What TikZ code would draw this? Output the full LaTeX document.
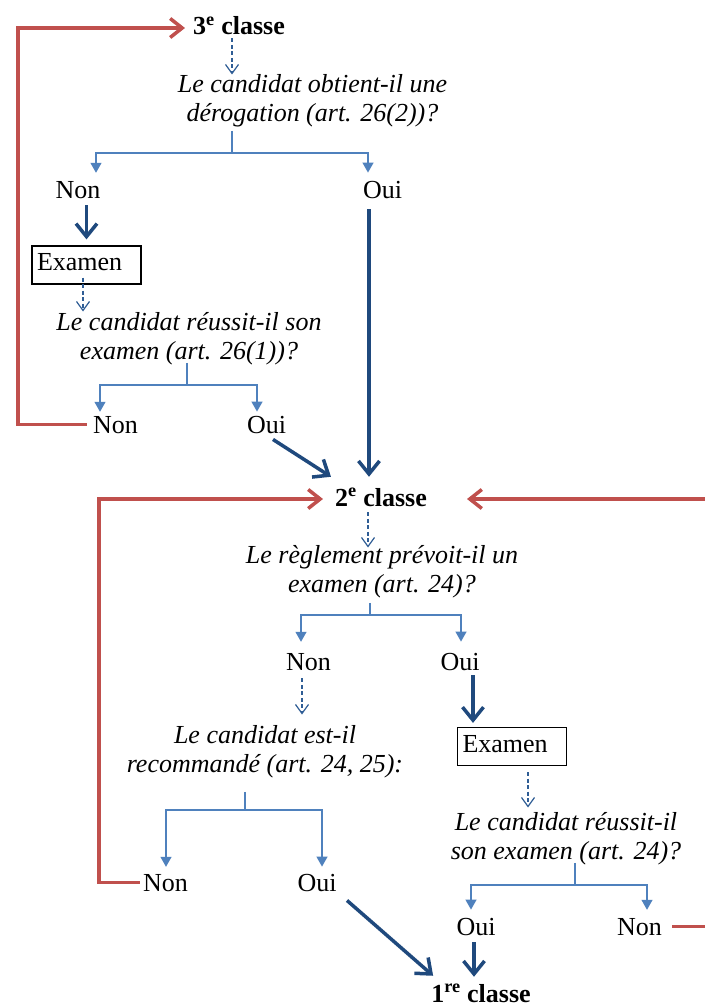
\documentclass[tikz,border=0pt]{standalone}
\usepackage{fontspec}
\setmainfont{Liberation Serif}
\usetikzlibrary{arrows.meta,calc}
\definecolor{redl}{HTML}{C0504D}
\definecolor{dblue}{HTML}{1F497D}
\definecolor{lblue}{HTML}{4F81BD}
\definecolor{dashc}{HTML}{2F5D95}
\begin{document}
\begin{tikzpicture}[x=1pt,y=-1pt,
  txt/.style={font=\fontsize{26}{29}\selectfont, inner sep=0pt, anchor=base},
  cls/.style={txt, font=\fontsize{26}{29}\selectfont\bfseries},
  qst/.style={font=\fontsize{26}{29}\selectfont\itshape, align=center, inner sep=0pt},
  exbox/.style={draw=black, line width=1.2pt, font=\fontsize{26}{29}\selectfont, text width=99pt, align=left, inner xsep=5pt, inner ysep=7.5pt, text height=17pt, text depth=6pt},
  redarr/.style={draw=redl, line width=3.5pt, line join=miter, -{Straight Barb[length=12pt,width=19pt]}},
  bigarr/.style={draw=dblue, line width=3.5pt, -{Straight Barb[length=13pt,width=21pt]}},
  brln/.style={draw=lblue, line width=1.2pt},
  brarr/.style={draw=lblue, line width=1.2pt, -{Triangle[length=10pt,width=11pt]}},
  dsh/.style={draw=dashc, line width=1.2pt, dash pattern=on 4pt off 2.5pt, -{Straight Barb[length=9pt,width=13pt,line width=1.2pt]}}
]
\fill[white] (0,0) rectangle (704,1008);
\useasboundingbox (0,0) rectangle (704,1008);

% nodes
\node[cls] (c3) at (239,35) {3\textsuperscript{e} classe};
\node[qst] (q1) at (312.5,101.7) {\strut Le candidat obtient-il une\\\strut dérogation (art. 26(2))?};
\node[txt] (non1) at (78,199) {Non};
\node[txt] (oui1) at (382.5,199) {Oui};
\node[exbox] (ex1) at (86.5,265) {Examen};
\node[qst] (q2) at (189,338.7) {\strut Le candidat réussit-il son\\\strut examen (art. 26(1))?};
\node[txt] (non2) at (115.5,433) {Non};
\node[txt] (oui2) at (266.5,433) {Oui};
\node[cls] (c2) at (381,506) {2\textsuperscript{e} classe};
\node[qst] (q3) at (382,571.7) {\strut Le règlement prévoit-il un\\\strut examen (art. 24)?};
\node[txt] (non3) at (308.5,670) {Non};
\node[txt] (oui3) at (460,670) {Oui};
\node[qst] (q4) at (265,751.7) {\strut Le candidat est-il\\\strut recommandé (art. 24, 25):};
\node[txt] (non4) at (165.5,891) {Non};
\node[txt] (oui4) at (317,891) {Oui};
\node[exbox] (ex2) at (512,746.5) {Examen};
\node[qst] (q5) at (566,838.7) {\strut Le candidat réussit-il\\\strut son examen (art. 24)?};
\node[txt] (oui5) at (476,935) {Oui};
\node[txt] (non5) at (639.5,935) {Non};
\node[cls] (c1) at (481,1002) {1\textsuperscript{re} classe};

% helper coordinates
\coordinate (d1) at (232,0);
\coordinate (b1) at (232,153); \coordinate (b1l) at (96,153); \coordinate (b1r) at (368,153);
\coordinate (d2) at (83,0);
\coordinate (b2) at (187,385); \coordinate (b2l) at (100,385); \coordinate (b2r) at (257,385);
\coordinate (v1) at (369,0);
\coordinate (d3) at (368,0);
\coordinate (b3) at (370,615); \coordinate (b3l) at (301,615); \coordinate (b3r) at (461,615);
\coordinate (d4) at (302,0);
\coordinate (v2) at (473,0);
\coordinate (b4) at (245,810); \coordinate (b4l) at (166,810); \coordinate (b4r) at (322,810);
\coordinate (d5) at (528,0);
\coordinate (b5) at (575,885); \coordinate (b5l) at (471,885); \coordinate (b5r) at (647,885);
\coordinate (v3) at (474,0);
\coordinate (rl1) at (18,28);
\coordinate (rl2) at (99,499);
\coordinate (rr) at (708,499);

% dashed arrows
\draw[dsh, shorten <=3pt, shorten >=-2pt] (c3.south -| d1) -- (q1.north -| d1);
\draw[dsh, shorten <=-7pt, shorten >=-2pt] (ex1.south -| d2) -- (q2.north -| d2);
\draw[dsh, shorten <=6pt, shorten >=-5pt] (c2.south -| d3) -- (q3.north -| d3);
\draw[dsh, shorten <=8pt, shorten >=8pt] (non3.south -| d4) -- (q4.north -| d4);
\draw[dsh, shorten <=6pt, shorten >=2pt] (ex2.south -| d5) -- (q5.north -| d5);

% branches
\draw[brln] (q1.south -| b1) -- (b1);
\draw[brarr, shorten >=9pt] (b1) -| (non1.north -| b1l);
\draw[brarr, shorten >=9pt] (b1) -| (oui1.north -| b1r);
\draw[brln, shorten <=-5pt] (q2.south -| b2) -- (b2);
\draw[brarr, shorten >=4pt] (b2) -| (non2.north -| b2l);
\draw[brarr, shorten >=4pt] (b2) -| (oui2.north -| b2r);
\draw[brln, shorten <=2pt] (q3.south -| b3) -- (b3);
\draw[brarr, shorten >=11pt] (b3) -| (non3.north -| b3l);
\draw[brarr, shorten >=11pt] (b3) -| (oui3.north -| b3r);
\draw[brln, shorten <=11pt] (q4.south -| b4) -- (b4);
\draw[brarr, shorten >=7pt] (b4) -| (non4.north -| b4l);
\draw[brarr, shorten >=7pt] (b4) -| (oui4.north -| b4r);
\draw[brln, shorten <=-5pt] (q5.south -| b5) -- (b5);
\draw[brarr, shorten >=8pt] (b5) -| (oui5.north -| b5l);
\draw[brarr, shorten >=8pt] (b5) -| (non5.north -| b5r);

% thick blue arrows
\draw[bigarr, shorten <=6pt, shorten >=6pt] (non1.south -| ex1.north) -- (ex1.north);
\draw[bigarr, shorten <=10pt, shorten >=11pt] (oui1.south -| v1) -- (c2.north -| v1);
\draw[bigarr] ($(oui2.south)+(6.5,6)$) -- ($(c2.north west)+(-4,-11)$);
\draw[bigarr, shorten <=5pt, shorten >=4pt] (oui3.south -| v2) -- (ex2.north -| v2);
\draw[bigarr] ($(oui4.south)+(30,9)$) -- ($(c1.north west)+(2,-8)$);
\draw[bigarr, shorten <=7pt, shorten >=7pt] (oui5.south -| v3) -- (c1.north -| v3);

% red loops
\draw[redarr, shorten <=6pt, shorten >=8pt] (non2.west) -| (rl1) -- (c3.west |- rl1);
\draw[redarr, shorten <=3pt, shorten >=12pt] (non4.west) -| (rl2) -- (c2.west |- rl2);
\draw[redarr, shorten <=10pt, shorten >=40pt] (non5.east) -| (rr) -- (c2.east |- rr);
\end{tikzpicture}
\end{document}
